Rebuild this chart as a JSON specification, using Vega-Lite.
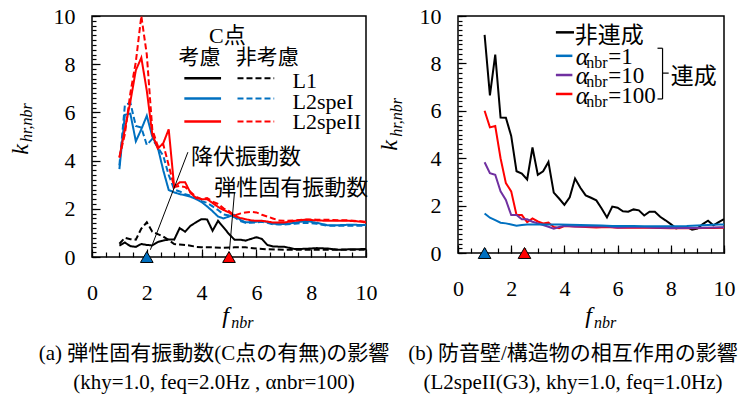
{
 "$schema": "https://vega.github.io/schema/vega-lite/v6.json",
 "background": "white",
 "padding": {"left": 7, "top": 4, "right": 5, "bottom": 0},
 "bounds": "flush",
 "spacing": 92,
 "datasets": {
  "left": [
   {"line":"L1","C":"考慮","f":1,"k":0.47},{"line":"L1","C":"考慮","f":1.2,"k":0.6},{"line":"L1","C":"考慮","f":1.4,"k":0.45},{"line":"L1","C":"考慮","f":1.6,"k":0.42},{"line":"L1","C":"考慮","f":1.8,"k":0.54},{"line":"L1","C":"考慮","f":2,"k":0.5},{"line":"L1","C":"考慮","f":2.2,"k":0.48},{"line":"L1","C":"考慮","f":2.4,"k":0.62},{"line":"L1","C":"考慮","f":2.6,"k":0.68},{"line":"L1","C":"考慮","f":2.8,"k":0.73},{"line":"L1","C":"考慮","f":3,"k":0.72},{"line":"L1","C":"考慮","f":3.2,"k":1.2},{"line":"L1","C":"考慮","f":3.4,"k":1.05},{"line":"L1","C":"考慮","f":3.6,"k":1.3},{"line":"L1","C":"考慮","f":3.8,"k":1.44},{"line":"L1","C":"考慮","f":4,"k":1.57},{"line":"L1","C":"考慮","f":4.2,"k":1.56},{"line":"L1","C":"考慮","f":4.4,"k":1.09},{"line":"L1","C":"考慮","f":4.6,"k":1.5},{"line":"L1","C":"考慮","f":4.8,"k":1.23},{"line":"L1","C":"考慮","f":5,"k":0.95},{"line":"L1","C":"考慮","f":5.2,"k":0.72},{"line":"L1","C":"考慮","f":5.4,"k":0.72},{"line":"L1","C":"考慮","f":5.6,"k":0.68},{"line":"L1","C":"考慮","f":5.8,"k":0.75},{"line":"L1","C":"考慮","f":6,"k":0.82},{"line":"L1","C":"考慮","f":6.2,"k":0.75},{"line":"L1","C":"考慮","f":6.4,"k":0.5},{"line":"L1","C":"考慮","f":6.6,"k":0.44},{"line":"L1","C":"考慮","f":6.8,"k":0.43},{"line":"L1","C":"考慮","f":7,"k":0.43},{"line":"L1","C":"考慮","f":7.2,"k":0.38},{"line":"L1","C":"考慮","f":7.4,"k":0.33},{"line":"L1","C":"考慮","f":7.8,"k":0.34},{"line":"L1","C":"考慮","f":8.2,"k":0.37},{"line":"L1","C":"考慮","f":8.6,"k":0.35},{"line":"L1","C":"考慮","f":9,"k":0.3},{"line":"L1","C":"考慮","f":9.4,"k":0.32},{"line":"L1","C":"考慮","f":10,"k":0.33},
   {"line":"L1","C":"非考慮","f":1,"k":0.55},{"line":"L1","C":"非考慮","f":1.2,"k":0.8},{"line":"L1","C":"非考慮","f":1.4,"k":0.74},{"line":"L1","C":"非考慮","f":1.6,"k":0.72},{"line":"L1","C":"非考慮","f":1.8,"k":1.18},{"line":"L1","C":"非考慮","f":2,"k":1.44},{"line":"L1","C":"非考慮","f":2.2,"k":1.05},{"line":"L1","C":"非考慮","f":2.4,"k":0.95},{"line":"L1","C":"非考慮","f":2.6,"k":0.85},{"line":"L1","C":"非考慮","f":2.8,"k":0.7},{"line":"L1","C":"非考慮","f":3,"k":0.54},{"line":"L1","C":"非考慮","f":3.2,"k":0.52},{"line":"L1","C":"非考慮","f":3.4,"k":0.5},{"line":"L1","C":"非考慮","f":3.6,"k":0.47},{"line":"L1","C":"非考慮","f":3.8,"k":0.42},{"line":"L1","C":"非考慮","f":4,"k":0.4},{"line":"L1","C":"非考慮","f":4.4,"k":0.4},{"line":"L1","C":"非考慮","f":4.8,"k":0.38},{"line":"L1","C":"非考慮","f":5.2,"k":0.4},{"line":"L1","C":"非考慮","f":5.6,"k":0.4},{"line":"L1","C":"非考慮","f":6,"k":0.35},{"line":"L1","C":"非考慮","f":6.4,"k":0.32},{"line":"L1","C":"非考慮","f":7,"k":0.3},{"line":"L1","C":"非考慮","f":8,"k":0.3},{"line":"L1","C":"非考慮","f":9,"k":0.3},{"line":"L1","C":"非考慮","f":10,"k":0.3},
   {"line":"L2speI","C":"考慮","f":1,"k":3.65},{"line":"L2speI","C":"考慮","f":1.2,"k":5.9},{"line":"L2speI","C":"考慮","f":1.4,"k":5.95},{"line":"L2speI","C":"考慮","f":1.6,"k":4.8},{"line":"L2speI","C":"考慮","f":1.8,"k":5.3},{"line":"L2speI","C":"考慮","f":2,"k":5.86},{"line":"L2speI","C":"考慮","f":2.2,"k":5.0},{"line":"L2speI","C":"考慮","f":2.4,"k":4.55},{"line":"L2speI","C":"考慮","f":2.6,"k":3.6},{"line":"L2speI","C":"考慮","f":2.8,"k":2.78},{"line":"L2speI","C":"考慮","f":3,"k":2.68},{"line":"L2speI","C":"考慮","f":3.2,"k":2.61},{"line":"L2speI","C":"考慮","f":3.4,"k":2.56},{"line":"L2speI","C":"考慮","f":3.6,"k":2.5},{"line":"L2speI","C":"考慮","f":3.8,"k":2.4},{"line":"L2speI","C":"考慮","f":4,"k":2.28},{"line":"L2speI","C":"考慮","f":4.2,"k":2.1},{"line":"L2speI","C":"考慮","f":4.4,"k":1.9},{"line":"L2speI","C":"考慮","f":4.6,"k":1.68},{"line":"L2speI","C":"考慮","f":4.8,"k":1.6},{"line":"L2speI","C":"考慮","f":5,"k":1.68},{"line":"L2speI","C":"考慮","f":5.2,"k":1.75},{"line":"L2speI","C":"考慮","f":5.4,"k":1.55},{"line":"L2speI","C":"考慮","f":5.6,"k":1.44},{"line":"L2speI","C":"考慮","f":5.8,"k":1.45},{"line":"L2speI","C":"考慮","f":6,"k":1.46},{"line":"L2speI","C":"考慮","f":6.2,"k":1.5},{"line":"L2speI","C":"考慮","f":6.4,"k":1.45},{"line":"L2speI","C":"考慮","f":6.6,"k":1.38},{"line":"L2speI","C":"考慮","f":6.8,"k":1.37},{"line":"L2speI","C":"考慮","f":7,"k":1.37},{"line":"L2speI","C":"考慮","f":7.4,"k":1.42},{"line":"L2speI","C":"考慮","f":7.8,"k":1.5},{"line":"L2speI","C":"考慮","f":8.2,"k":1.42},{"line":"L2speI","C":"考慮","f":8.6,"k":1.32},{"line":"L2speI","C":"考慮","f":9,"k":1.32},{"line":"L2speI","C":"考慮","f":9.4,"k":1.34},{"line":"L2speI","C":"考慮","f":9.8,"k":1.33},{"line":"L2speI","C":"考慮","f":10,"k":1.33},
   {"line":"L2speI","C":"非考慮","f":1,"k":3.8},{"line":"L2speI","C":"非考慮","f":1.2,"k":6.3},{"line":"L2speI","C":"非考慮","f":1.4,"k":6.4},{"line":"L2speI","C":"非考慮","f":1.6,"k":5.44},{"line":"L2speI","C":"非考慮","f":1.8,"k":5.37},{"line":"L2speI","C":"非考慮","f":2,"k":4.65},{"line":"L2speI","C":"非考慮","f":2.2,"k":4.9},{"line":"L2speI","C":"非考慮","f":2.4,"k":4.55},{"line":"L2speI","C":"非考慮","f":2.6,"k":4.2},{"line":"L2speI","C":"非考慮","f":2.8,"k":3.4},{"line":"L2speI","C":"非考慮","f":3,"k":2.8},{"line":"L2speI","C":"非考慮","f":3.2,"k":2.72},{"line":"L2speI","C":"非考慮","f":3.4,"k":2.6},{"line":"L2speI","C":"非考慮","f":3.6,"k":2.55},{"line":"L2speI","C":"非考慮","f":3.8,"k":2.45},{"line":"L2speI","C":"非考慮","f":4,"k":2.32},{"line":"L2speI","C":"非考慮","f":4.2,"k":2.25},{"line":"L2speI","C":"非考慮","f":4.4,"k":2.1},{"line":"L2speI","C":"非考慮","f":4.6,"k":1.95},{"line":"L2speI","C":"非考慮","f":4.8,"k":1.77},{"line":"L2speI","C":"非考慮","f":5,"k":1.72},{"line":"L2speI","C":"非考慮","f":5.2,"k":1.65},{"line":"L2speI","C":"非考慮","f":5.4,"k":1.5},{"line":"L2speI","C":"非考慮","f":5.6,"k":1.42},{"line":"L2speI","C":"非考慮","f":5.8,"k":1.42},{"line":"L2speI","C":"非考慮","f":6,"k":1.43},{"line":"L2speI","C":"非考慮","f":6.2,"k":1.46},{"line":"L2speI","C":"非考慮","f":6.4,"k":1.42},{"line":"L2speI","C":"非考慮","f":6.6,"k":1.36},{"line":"L2speI","C":"非考慮","f":6.8,"k":1.35},{"line":"L2speI","C":"非考慮","f":7,"k":1.35},{"line":"L2speI","C":"非考慮","f":7.4,"k":1.38},{"line":"L2speI","C":"非考慮","f":7.8,"k":1.42},{"line":"L2speI","C":"非考慮","f":8.2,"k":1.38},{"line":"L2speI","C":"非考慮","f":8.6,"k":1.3},{"line":"L2speI","C":"非考慮","f":9,"k":1.3},{"line":"L2speI","C":"非考慮","f":9.4,"k":1.3},{"line":"L2speI","C":"非考慮","f":9.8,"k":1.3},{"line":"L2speI","C":"非考慮","f":10,"k":1.3},
   {"line":"L2speII","C":"考慮","f":1,"k":4.13},{"line":"L2speII","C":"考慮","f":1.2,"k":5.3},{"line":"L2speII","C":"考慮","f":1.4,"k":6.45},{"line":"L2speII","C":"考慮","f":1.6,"k":7.75},{"line":"L2speII","C":"考慮","f":1.8,"k":8.27},{"line":"L2speII","C":"考慮","f":2,"k":6.9},{"line":"L2speII","C":"考慮","f":2.2,"k":5.1},{"line":"L2speII","C":"考慮","f":2.4,"k":4.5},{"line":"L2speII","C":"考慮","f":2.6,"k":4.72},{"line":"L2speII","C":"考慮","f":2.8,"k":5.3},{"line":"L2speII","C":"考慮","f":3,"k":2.9},{"line":"L2speII","C":"考慮","f":3.2,"k":3.1},{"line":"L2speII","C":"考慮","f":3.4,"k":3.1},{"line":"L2speII","C":"考慮","f":3.6,"k":2.65},{"line":"L2speII","C":"考慮","f":3.8,"k":2.45},{"line":"L2speII","C":"考慮","f":4,"k":2.4},{"line":"L2speII","C":"考慮","f":4.2,"k":2.4},{"line":"L2speII","C":"考慮","f":4.4,"k":2.24},{"line":"L2speII","C":"考慮","f":4.6,"k":2.08},{"line":"L2speII","C":"考慮","f":4.8,"k":1.95},{"line":"L2speII","C":"考慮","f":5,"k":1.85},{"line":"L2speII","C":"考慮","f":5.2,"k":1.7},{"line":"L2speII","C":"考慮","f":5.4,"k":1.62},{"line":"L2speII","C":"考慮","f":5.6,"k":1.57},{"line":"L2speII","C":"考慮","f":5.8,"k":1.52},{"line":"L2speII","C":"考慮","f":6,"k":1.5},{"line":"L2speII","C":"考慮","f":6.2,"k":1.5},{"line":"L2speII","C":"考慮","f":6.4,"k":1.47},{"line":"L2speII","C":"考慮","f":6.6,"k":1.43},{"line":"L2speII","C":"考慮","f":6.8,"k":1.43},{"line":"L2speII","C":"考慮","f":7,"k":1.43},{"line":"L2speII","C":"考慮","f":7.4,"k":1.5},{"line":"L2speII","C":"考慮","f":7.8,"k":1.55},{"line":"L2speII","C":"考慮","f":8.2,"k":1.52},{"line":"L2speII","C":"考慮","f":8.6,"k":1.5},{"line":"L2speII","C":"考慮","f":9,"k":1.5},{"line":"L2speII","C":"考慮","f":9.4,"k":1.5},{"line":"L2speII","C":"考慮","f":9.8,"k":1.47},{"line":"L2speII","C":"考慮","f":10,"k":1.43},
   {"line":"L2speII","C":"非考慮","f":1,"k":4.13},{"line":"L2speII","C":"非考慮","f":1.2,"k":5.1},{"line":"L2speII","C":"非考慮","f":1.4,"k":6.8},{"line":"L2speII","C":"非考慮","f":1.6,"k":8.1},{"line":"L2speII","C":"非考慮","f":1.8,"k":10},{"line":"L2speII","C":"非考慮","f":2,"k":8.4},{"line":"L2speII","C":"非考慮","f":2.2,"k":5.3},{"line":"L2speII","C":"非考慮","f":2.4,"k":4.6},{"line":"L2speII","C":"非考慮","f":2.6,"k":4.68},{"line":"L2speII","C":"非考慮","f":2.8,"k":3.8},{"line":"L2speII","C":"非考慮","f":3,"k":2.9},{"line":"L2speII","C":"非考慮","f":3.2,"k":2.95},{"line":"L2speII","C":"非考慮","f":3.4,"k":2.9},{"line":"L2speII","C":"非考慮","f":3.6,"k":2.7},{"line":"L2speII","C":"非考慮","f":3.8,"k":2.5},{"line":"L2speII","C":"非考慮","f":4,"k":2.4},{"line":"L2speII","C":"非考慮","f":4.2,"k":2.45},{"line":"L2speII","C":"非考慮","f":4.4,"k":2.3},{"line":"L2speII","C":"非考慮","f":4.6,"k":2.2},{"line":"L2speII","C":"非考慮","f":4.8,"k":2.02},{"line":"L2speII","C":"非考慮","f":5,"k":1.9},{"line":"L2speII","C":"非考慮","f":5.2,"k":1.72},{"line":"L2speII","C":"非考慮","f":5.4,"k":1.8},{"line":"L2speII","C":"非考慮","f":5.6,"k":1.85},{"line":"L2speII","C":"非考慮","f":5.8,"k":1.87},{"line":"L2speII","C":"非考慮","f":6,"k":1.85},{"line":"L2speII","C":"非考慮","f":6.2,"k":1.75},{"line":"L2speII","C":"非考慮","f":6.4,"k":1.68},{"line":"L2speII","C":"非考慮","f":6.6,"k":1.6},{"line":"L2speII","C":"非考慮","f":6.8,"k":1.52},{"line":"L2speII","C":"非考慮","f":7,"k":1.5},{"line":"L2speII","C":"非考慮","f":7.4,"k":1.52},{"line":"L2speII","C":"非考慮","f":7.8,"k":1.56},{"line":"L2speII","C":"非考慮","f":8.2,"k":1.55},{"line":"L2speII","C":"非考慮","f":8.6,"k":1.55},{"line":"L2speII","C":"非考慮","f":9,"k":1.52},{"line":"L2speII","C":"非考慮","f":9.4,"k":1.52},{"line":"L2speII","C":"非考慮","f":9.8,"k":1.48},{"line":"L2speII","C":"非考慮","f":10,"k":1.46}
  ],
  "right": [
   {"case":"非連成","f":1,"k":9.2},{"case":"非連成","f":1.2,"k":6.65},{"case":"非連成","f":1.4,"k":8.37},{"case":"非連成","f":1.6,"k":5.72},{"case":"非連成","f":1.8,"k":5.71},{"case":"非連成","f":2,"k":4.94},{"case":"非連成","f":2.2,"k":3.45},{"case":"非連成","f":2.4,"k":3.35},{"case":"非連成","f":2.6,"k":3.1},{"case":"非連成","f":2.8,"k":4.45},{"case":"非連成","f":3,"k":3.3},{"case":"非連成","f":3.2,"k":3.45},{"case":"非連成","f":3.4,"k":3.84},{"case":"非連成","f":3.6,"k":2.55},{"case":"非連成","f":3.8,"k":2.3},{"case":"非連成","f":4,"k":2.03},{"case":"非連成","f":4.2,"k":2.35},{"case":"非連成","f":4.4,"k":3.14},{"case":"非連成","f":4.6,"k":2.75},{"case":"非連成","f":4.8,"k":2.43},{"case":"非連成","f":5,"k":2.33},{"case":"非連成","f":5.2,"k":2.22},{"case":"非連成","f":5.4,"k":1.88},{"case":"非連成","f":5.6,"k":1.5},{"case":"非連成","f":5.8,"k":1.96},{"case":"非連成","f":6,"k":1.91},{"case":"非連成","f":6.2,"k":1.76},{"case":"非連成","f":6.4,"k":1.74},{"case":"非連成","f":6.6,"k":1.84},{"case":"非連成","f":6.8,"k":1.8},{"case":"非連成","f":7,"k":1.58},{"case":"非連成","f":7.2,"k":1.74},{"case":"非連成","f":7.4,"k":1.74},{"case":"非連成","f":7.6,"k":1.53},{"case":"非連成","f":7.8,"k":1.38},{"case":"非連成","f":8,"k":1.22},{"case":"非連成","f":8.2,"k":1.04},{"case":"非連成","f":8.4,"k":1.1},{"case":"非連成","f":8.6,"k":1.1},{"case":"非連成","f":8.8,"k":0.98},{"case":"非連成","f":9,"k":1.03},{"case":"非連成","f":9.2,"k":1.22},{"case":"非連成","f":9.4,"k":1.36},{"case":"非連成","f":9.6,"k":1.17},{"case":"非連成","f":9.8,"k":1.3},{"case":"非連成","f":10,"k":1.43},
   {"case":"α=100","f":1,"k":6.0},{"case":"α=100","f":1.2,"k":5.3},{"case":"α=100","f":1.4,"k":5.36},{"case":"α=100","f":1.6,"k":4.0},{"case":"α=100","f":1.8,"k":2.95},{"case":"α=100","f":2,"k":2.6},{"case":"α=100","f":2.2,"k":1.6},{"case":"α=100","f":2.4,"k":1.6},{"case":"α=100","f":2.6,"k":1.3},{"case":"α=100","f":2.8,"k":1.46},{"case":"α=100","f":3,"k":1.33},{"case":"α=100","f":3.2,"k":1.25},{"case":"α=100","f":3.4,"k":1.28},{"case":"α=100","f":3.6,"k":1.1},{"case":"α=100","f":3.8,"k":1.05},{"case":"α=100","f":4,"k":1.14},{"case":"α=100","f":4.4,"k":1.12},{"case":"α=100","f":4.8,"k":1.1},{"case":"α=100","f":5.2,"k":1.08},{"case":"α=100","f":5.6,"k":1.1},{"case":"α=100","f":6,"k":1.07},{"case":"α=100","f":6.4,"k":1.07},{"case":"α=100","f":6.8,"k":1.08},{"case":"α=100","f":7.2,"k":1.07},{"case":"α=100","f":7.6,"k":1.06},{"case":"α=100","f":8,"k":1.04},{"case":"α=100","f":8.4,"k":1.05},{"case":"α=100","f":8.8,"k":1.04},{"case":"α=100","f":9.2,"k":1.05},{"case":"α=100","f":9.6,"k":1.06},{"case":"α=100","f":10,"k":1.07},
   {"case":"α=10","f":1,"k":3.83},{"case":"α=10","f":1.2,"k":3.37},{"case":"α=10","f":1.4,"k":3.3},{"case":"α=10","f":1.6,"k":2.6},{"case":"α=10","f":1.8,"k":2.24},{"case":"α=10","f":2,"k":1.6},{"case":"α=10","f":2.2,"k":1.6},{"case":"α=10","f":2.4,"k":1.42},{"case":"α=10","f":2.6,"k":1.42},{"case":"α=10","f":2.8,"k":1.32},{"case":"α=10","f":3,"k":1.25},{"case":"α=10","f":3.2,"k":1.18},{"case":"α=10","f":3.4,"k":1.11},{"case":"α=10","f":3.6,"k":1.03},{"case":"α=10","f":3.8,"k":1.1},{"case":"α=10","f":4,"k":1.15},{"case":"α=10","f":4.4,"k":1.12},{"case":"α=10","f":4.8,"k":1.12},{"case":"α=10","f":5.2,"k":1.12},{"case":"α=10","f":5.6,"k":1.12},{"case":"α=10","f":6,"k":1.08},{"case":"α=10","f":6.4,"k":1.09},{"case":"α=10","f":6.8,"k":1.1},{"case":"α=10","f":7.2,"k":1.08},{"case":"α=10","f":7.6,"k":1.07},{"case":"α=10","f":8,"k":1.06},{"case":"α=10","f":8.4,"k":1.06},{"case":"α=10","f":8.8,"k":1.06},{"case":"α=10","f":9.2,"k":1.07},{"case":"α=10","f":9.6,"k":1.08},{"case":"α=10","f":10,"k":1.09},
   {"case":"α=1","f":1,"k":1.67},{"case":"α=1","f":1.2,"k":1.49},{"case":"α=1","f":1.4,"k":1.39},{"case":"α=1","f":1.6,"k":1.28},{"case":"α=1","f":1.8,"k":1.25},{"case":"α=1","f":2,"k":1.2},{"case":"α=1","f":2.2,"k":1.15},{"case":"α=1","f":2.4,"k":1.18},{"case":"α=1","f":2.6,"k":1.2},{"case":"α=1","f":3,"k":1.2},{"case":"α=1","f":3.4,"k":1.2},{"case":"α=1","f":3.8,"k":1.2},{"case":"α=1","f":4.2,"k":1.19},{"case":"α=1","f":4.6,"k":1.18},{"case":"α=1","f":5,"k":1.17},{"case":"α=1","f":5.4,"k":1.16},{"case":"α=1","f":5.8,"k":1.14},{"case":"α=1","f":6.2,"k":1.14},{"case":"α=1","f":6.6,"k":1.14},{"case":"α=1","f":7,"k":1.13},{"case":"α=1","f":7.4,"k":1.13},{"case":"α=1","f":7.8,"k":1.13},{"case":"α=1","f":8.2,"k":1.13},{"case":"α=1","f":8.6,"k":1.14},{"case":"α=1","f":9,"k":1.16},{"case":"α=1","f":9.4,"k":1.18},{"case":"α=1","f":9.8,"k":1.2},{"case":"α=1","f":10,"k":1.2}
  ],
  "markLeft": [{"f":2,"kind":"降伏振動数"},{"f":5,"kind":"弾性固有振動数"}],
  "markRight": [{"f":1,"kind":"降伏振動数"},{"f":2.5,"kind":"弾性固有振動数"}]
 },
 "config": {
  "view": {"stroke": "black", "strokeWidth": 1.5},
  "axis": {"grid": false, "domain": false, "ticks": true, "tickColor": "#000000", "tickOpacity": 1, "tickWidth": 1, "labelFont": "Liberation Serif", "labelFontSize": 22, "labelColor": "black", "titleFont": "Liberation Serif", "titleFontSize": 24, "titleFontStyle": "italic", "titleFontWeight": "normal", "titleColor": "black", "labelFlush": false, "labelOverlap": false, "zindex": 2},
  "title": {"font": "Liberation Serif, Noto Sans CJK JP", "fontSize": 21, "fontWeight": "normal", "color": "black", "lineHeight": 29}
 },
 "resolve": {"scale": {"color": "independent", "strokeDash": "independent", "fill": "independent"}},
 "hconcat": [
  {
   "width": 274, "height": 241,
   "title": {"text": ["(a) 弾性固有振動数(C点の有無)の影響", "(khy=1.0, feq=2.0Hz , αnbr=100)"], "orient": "bottom", "anchor": "middle", "frame": "group", "dx": -15, "offset": 12},
   "resolve": {"axis": {"x": "independent", "y": "independent"}},
   "layer": [
    {"data": {"name": "left"}, "mark": {"type": "line", "strokeWidth": 2, "clip": true},
     "encoding": {
      "x": {"field": "f", "type": "quantitative", "scale": {"domain": [0, 10], "nice": false},
            "axis": {"orient": "bottom", "values": [0,2,4,6,8,10], "offset": -8, "ticks": true, "tickSize": 8, "tickColor": "#000000", "tickWidth": 1.2, "tickOpacity": 1, "labelPadding": 25, "title": "f", "titleX": 133, "titleY": 73, "titleBaseline": "alphabetic", "titleAlign": "center"}},
      "y": {"field": "k", "type": "quantitative", "scale": {"domain": [0, 10], "nice": false},
            "axis": {"orient": "left", "values": [0,2,4,6,8,10], "offset": -8, "ticks": true, "tickSize": 8, "tickColor": "#000000", "tickWidth": 1.2, "tickOpacity": 1, "labelPadding": 17, "title": "k", "titleX": -72.7, "titleY": 133, "titleAngle": 270, "titleBaseline": "alphabetic", "titleAlign": "center"}},
      "color": {"field": "line", "type": "nominal", "scale": {"domain": ["L1", "L2speI", "L2speII"], "range": ["#000000", "#0070C0", "#FF0000"]}, "legend": null},
      "strokeDash": {"field": "C", "type": "nominal", "scale": {"domain": ["考慮", "非考慮"], "range": [[1, 0], [6, 3]]}, "legend": null}
     }},
    {"data": {"values": [{}]}, "mark": {"type": "rule", "color": "black", "strokeWidth": 1},
     "encoding": {"x": {"datum": 3.5, "type": "quantitative", "axis": null}, "y": {"datum": 4.35, "type": "quantitative", "axis": null}, "x2": {"datum": 2.13}, "y2": {"datum": 0.3}}},
    {"data": {"values": [{}]}, "mark": {"type": "rule", "color": "black", "strokeWidth": 1},
     "encoding": {"x": {"datum": 5.2, "type": "quantitative", "axis": null}, "y": {"datum": 2.68, "type": "quantitative", "axis": null}, "x2": {"datum": 5.02}, "y2": {"datum": 0.3}}},
    {"data": {"values": [{}]}, "mark": {"type": "text", "text": "降伏振動数", "font": "Noto Sans CJK JP", "fontSize": 22, "align": "left", "baseline": "middle", "color": "black"},
     "encoding": {"x": {"datum": 3.61, "type": "quantitative", "axis": null}, "y": {"datum": 4.14, "type": "quantitative", "axis": null}}},
    {"data": {"values": [{}]}, "mark": {"type": "text", "text": "弾性固有振動数", "font": "Noto Sans CJK JP", "fontSize": 22, "align": "left", "baseline": "middle", "color": "black"},
     "encoding": {"x": {"datum": 4.46, "type": "quantitative", "axis": null}, "y": {"datum": 2.86, "type": "quantitative", "axis": null}}},
    {"data": {"values": [{}]}, "mark": {"type": "text", "text": "C点", "font": "Liberation Serif, Noto Sans CJK JP", "fontSize": 22, "align": "center", "baseline": "middle", "color": "black"},
     "encoding": {"x": {"datum": 4.94, "type": "quantitative", "axis": null}, "y": {"datum": 9.15, "type": "quantitative", "axis": null}}},
    {"data": {"values": [{}]}, "mark": {"type": "text", "text": "考慮", "font": "Noto Sans CJK JP", "fontSize": 21, "align": "center", "baseline": "middle", "color": "black"},
     "encoding": {"x": {"datum": 3.92, "type": "quantitative", "axis": null}, "y": {"datum": 8.24, "type": "quantitative", "axis": null}}},
    {"data": {"values": [{}]}, "mark": {"type": "text", "text": "非考慮", "font": "Noto Sans CJK JP", "fontSize": 21, "align": "center", "baseline": "middle", "color": "black"},
     "encoding": {"x": {"datum": 6.4, "type": "quantitative", "axis": null}, "y": {"datum": 8.24, "type": "quantitative", "axis": null}}},
    {"data": {"values": [{}]}, "mark": {"type": "rule", "color": "#000000", "strokeWidth": 2.5},
     "encoding": {"x": {"datum": 3.37, "type": "quantitative", "axis": null}, "x2": {"datum": 4.71}, "y": {"datum": 7.42, "type": "quantitative", "axis": null}}},
    {"data": {"values": [{}]}, "mark": {"type": "rule", "color": "#0070C0", "strokeWidth": 2.5},
     "encoding": {"x": {"datum": 3.37, "type": "quantitative", "axis": null}, "x2": {"datum": 4.71}, "y": {"datum": 6.58, "type": "quantitative", "axis": null}}},
    {"data": {"values": [{}]}, "mark": {"type": "rule", "color": "#FF0000", "strokeWidth": 2.5},
     "encoding": {"x": {"datum": 3.37, "type": "quantitative", "axis": null}, "x2": {"datum": 4.71}, "y": {"datum": 5.62, "type": "quantitative", "axis": null}}},
    {"data": {"values": [{}]}, "mark": {"type": "rule", "color": "#000000", "strokeWidth": 2, "strokeDash": [6, 3]},
     "encoding": {"x": {"datum": 5.31, "type": "quantitative", "axis": null}, "x2": {"datum": 6.65}, "y": {"datum": 7.42, "type": "quantitative", "axis": null}}},
    {"data": {"values": [{}]}, "mark": {"type": "rule", "color": "#0070C0", "strokeWidth": 2, "strokeDash": [6, 3]},
     "encoding": {"x": {"datum": 5.31, "type": "quantitative", "axis": null}, "x2": {"datum": 6.65}, "y": {"datum": 6.58, "type": "quantitative", "axis": null}}},
    {"data": {"values": [{}]}, "mark": {"type": "rule", "color": "#FF0000", "strokeWidth": 2, "strokeDash": [6, 3]},
     "encoding": {"x": {"datum": 5.31, "type": "quantitative", "axis": null}, "x2": {"datum": 6.65}, "y": {"datum": 5.62, "type": "quantitative", "axis": null}}},
    {"data": {"values": [{}]}, "mark": {"type": "text", "text": ["L1", "L2speI", "L2speII"], "lineHeight": 20.5, "font": "Liberation Serif", "fontSize": 22, "align": "left", "baseline": "middle", "color": "black"},
     "encoding": {"x": {"datum": 7.32, "type": "quantitative", "axis": null}, "y": {"datum": 7.3, "type": "quantitative", "axis": null}}},
    {"data": {"values": [{}]}, "mark": {"type": "text", "text": "hr,nbr", "angle": 270, "font": "Liberation Serif", "fontStyle": "italic", "fontSize": 16, "align": "left", "baseline": "alphabetic", "color": "black"},
     "encoding": {"x": {"datum": -2.18, "type": "quantitative", "axis": null}, "y": {"datum": 4.77, "type": "quantitative", "axis": null}}},
    {"data": {"values": [{}]}, "mark": {"type": "text", "text": "nbr", "font": "Liberation Serif", "fontStyle": "italic", "fontSize": 16, "align": "left", "baseline": "alphabetic", "color": "black"},
     "encoding": {"x": {"datum": 5.08, "type": "quantitative", "axis": null}, "y": {"datum": -2.94, "type": "quantitative", "axis": null}}},
    {"data": {"name": "markLeft"}, "mark": {"type": "point", "shape": "triangle-up", "size": 160, "filled": true, "stroke": "black", "strokeWidth": 1, "opacity": 1},
     "encoding": {
      "x": {"field": "f", "type": "quantitative", "axis": {"orient": "bottom", "values": [0,0.5,1,1.5,2,2.5,3,3.5,4,4.5,5,5.5,6,6.5,7,7.5,8,8.5,9,9.5,10], "offset": -5, "ticks": true, "tickSize": 5, "tickColor": "#000000", "tickWidth": 1.2, "tickOpacity": 1, "labels": false, "title": null}},
      "y": {"datum": 0, "type": "quantitative", "axis": {"orient": "left", "values": [0,0.2,0.4,0.6,0.8,1,1.2,1.4,1.6,1.8,2,2.2,2.4,2.6,2.8,3,3.2,3.4,3.6,3.8,4,4.2,4.4,4.6,4.8,5,5.2,5.4,5.6,5.8,6,6.2,6.4,6.6,6.8,7,7.2,7.4,7.6,7.8,8,8.2,8.4,8.6,8.8,9,9.2,9.4,9.6,9.8,10], "offset": -4, "ticks": true, "tickSize": 4, "tickColor": "#000000", "tickWidth": 1.2, "tickOpacity": 1, "labels": false, "title": null}},
      "fill": {"field": "kind", "type": "nominal", "scale": {"domain": ["降伏振動数", "弾性固有振動数"], "range": ["#0070C0", "#FF0000"]}, "legend": null}}}
   ]
  },
  {
   "width": 266, "height": 237,
   "title": {"text": ["(b) 防音壁/構造物の相互作用の影響", "(L2speII(G3), khy=1.0, feq=1.0Hz)"], "orient": "bottom", "anchor": "middle", "frame": "group", "dx": -18, "offset": 12},
   "resolve": {"axis": {"x": "independent", "y": "independent"}},
   "layer": [
    {"data": {"name": "right"}, "mark": {"type": "line", "strokeWidth": 2, "clip": true},
     "encoding": {
      "x": {"field": "f", "type": "quantitative", "scale": {"domain": [0, 10], "nice": false},
            "axis": {"orient": "bottom", "values": [0,2,4,6,8,10], "offset": -8, "ticks": true, "tickSize": 8, "tickColor": "#000000", "tickWidth": 1.2, "tickOpacity": 1, "labelPadding": 25, "title": "f", "titleX": 130, "titleY": 77, "titleBaseline": "alphabetic", "titleAlign": "center"}},
      "y": {"field": "k", "type": "quantitative", "scale": {"domain": [0, 10], "nice": false},
            "axis": {"orient": "left", "values": [0,2,4,6,8,10], "offset": -8, "ticks": true, "tickSize": 8, "tickColor": "#000000", "tickWidth": 1.2, "tickOpacity": 1, "labelPadding": 17, "title": "k", "titleX": -69.3, "titleY": 129, "titleAngle": 270, "titleBaseline": "alphabetic", "titleAlign": "center"}},
      "color": {"field": "case", "type": "nominal", "scale": {"domain": ["非連成", "α=100", "α=10", "α=1"], "range": ["#000000", "#FF0000", "#7030A0", "#0070C0"]}, "legend": null}
     }},
    {"data": {"values": [{}]}, "mark": {"type": "rule", "color": "#000000", "strokeWidth": 2.5},
     "encoding": {"x": {"datum": 3.68, "type": "quantitative", "axis": null}, "x2": {"datum": 4.36}, "y": {"datum": 9.31, "type": "quantitative", "axis": null}}},
    {"data": {"values": [{}]}, "mark": {"type": "rule", "color": "#0070C0", "strokeWidth": 2.5},
     "encoding": {"x": {"datum": 3.68, "type": "quantitative", "axis": null}, "x2": {"datum": 4.3}, "y": {"datum": 8.32, "type": "quantitative", "axis": null}}},
    {"data": {"values": [{}]}, "mark": {"type": "rule", "color": "#7030A0", "strokeWidth": 2.5},
     "encoding": {"x": {"datum": 3.68, "type": "quantitative", "axis": null}, "x2": {"datum": 4.3}, "y": {"datum": 7.51, "type": "quantitative", "axis": null}}},
    {"data": {"values": [{}]}, "mark": {"type": "rule", "color": "#FF0000", "strokeWidth": 2.5},
     "encoding": {"x": {"datum": 3.68, "type": "quantitative", "axis": null}, "x2": {"datum": 4.3}, "y": {"datum": 6.71, "type": "quantitative", "axis": null}}},
    {"data": {"values": [{}]}, "mark": {"type": "text", "text": "非連成", "font": "Noto Sans CJK JP", "fontSize": 23, "align": "left", "baseline": "middle", "color": "black"},
     "encoding": {"x": {"datum": 4.39, "type": "quantitative", "axis": null}, "y": {"datum": 9.14, "type": "quantitative", "axis": null}}},
    {"data": {"values": [{}]}, "mark": {"type": "text", "text": ["α", "α", "α"], "lineHeight": 19.2, "font": "Liberation Serif", "fontStyle": "italic", "fontSize": 25, "align": "left", "baseline": "middle", "color": "black"},
     "encoding": {"x": {"datum": 4.43, "type": "quantitative", "axis": null}, "y": {"datum": 8.26, "type": "quantitative", "axis": null}}},
    {"data": {"values": [{}]}, "mark": {"type": "text", "text": ["nbr", "nbr", "nbr"], "lineHeight": 19.2, "font": "Liberation Serif", "fontSize": 16, "align": "left", "baseline": "middle", "dy": 6, "color": "black"},
     "encoding": {"x": {"datum": 4.82, "type": "quantitative", "axis": null}, "y": {"datum": 8.26, "type": "quantitative", "axis": null}}},
    {"data": {"values": [{}]}, "mark": {"type": "text", "text": ["=1", "=10", "=100"], "lineHeight": 19.2, "font": "Liberation Serif", "fontSize": 23, "align": "left", "baseline": "middle", "color": "black"},
     "encoding": {"x": {"datum": 5.65, "type": "quantitative", "axis": null}, "y": {"datum": 8.26, "type": "quantitative", "axis": null}}},
    {"data": {"values": [{}]}, "mark": {"type": "rule", "color": "black", "strokeWidth": 1.2},
     "encoding": {"x": {"datum": 7.69, "type": "quantitative", "axis": null}, "y": {"datum": 8.64, "type": "quantitative", "axis": null}, "y2": {"datum": 6.5}}},
    {"data": {"values": [{}]}, "mark": {"type": "rule", "color": "black", "strokeWidth": 1.2},
     "encoding": {"x": {"datum": 7.5, "type": "quantitative", "axis": null}, "x2": {"datum": 7.69}, "y": {"datum": 8.64, "type": "quantitative", "axis": null}}},
    {"data": {"values": [{}]}, "mark": {"type": "rule", "color": "black", "strokeWidth": 1.2},
     "encoding": {"x": {"datum": 7.5, "type": "quantitative", "axis": null}, "x2": {"datum": 7.69}, "y": {"datum": 6.5, "type": "quantitative", "axis": null}}},
    {"data": {"values": [{}]}, "mark": {"type": "rule", "color": "black", "strokeWidth": 1.2},
     "encoding": {"x": {"datum": 7.69, "type": "quantitative", "axis": null}, "x2": {"datum": 7.92}, "y": {"datum": 7.59, "type": "quantitative", "axis": null}}},
    {"data": {"values": [{}]}, "mark": {"type": "text", "text": "連成", "font": "Noto Sans CJK JP", "fontSize": 23, "align": "left", "baseline": "middle", "color": "black"},
     "encoding": {"x": {"datum": 8.0, "type": "quantitative", "axis": null}, "y": {"datum": 7.42, "type": "quantitative", "axis": null}}},
    {"data": {"values": [{}]}, "mark": {"type": "text", "text": "hr,nbr", "angle": 270, "font": "Liberation Serif", "fontStyle": "italic", "fontSize": 16, "align": "left", "baseline": "alphabetic", "color": "black"},
     "encoding": {"x": {"datum": -2.12, "type": "quantitative", "axis": null}, "y": {"datum": 4.91, "type": "quantitative", "axis": null}}},
    {"data": {"values": [{}]}, "mark": {"type": "text", "text": "nbr", "font": "Liberation Serif", "fontStyle": "italic", "fontSize": 16, "align": "left", "baseline": "alphabetic", "color": "black"},
     "encoding": {"x": {"datum": 5.11, "type": "quantitative", "axis": null}, "y": {"datum": -3.18, "type": "quantitative", "axis": null}}},
    {"data": {"name": "markRight"}, "mark": {"type": "point", "shape": "triangle-up", "size": 160, "filled": true, "stroke": "black", "strokeWidth": 1, "opacity": 1},
     "encoding": {
      "x": {"field": "f", "type": "quantitative", "axis": {"orient": "bottom", "values": [0,0.5,1,1.5,2,2.5,3,3.5,4,4.5,5,5.5,6,6.5,7,7.5,8,8.5,9,9.5,10], "offset": -5, "ticks": true, "tickSize": 5, "tickColor": "#000000", "tickWidth": 1.2, "tickOpacity": 1, "labels": false, "title": null}},
      "y": {"datum": 0, "type": "quantitative", "axis": {"orient": "left", "values": [0,0.2,0.4,0.6,0.8,1,1.2,1.4,1.6,1.8,2,2.2,2.4,2.6,2.8,3,3.2,3.4,3.6,3.8,4,4.2,4.4,4.6,4.8,5,5.2,5.4,5.6,5.8,6,6.2,6.4,6.6,6.8,7,7.2,7.4,7.6,7.8,8,8.2,8.4,8.6,8.8,9,9.2,9.4,9.6,9.8,10], "offset": -4, "ticks": true, "tickSize": 4, "tickColor": "#000000", "tickWidth": 1.2, "tickOpacity": 1, "labels": false, "title": null}},
      "fill": {"field": "kind", "type": "nominal", "scale": {"domain": ["降伏振動数", "弾性固有振動数"], "range": ["#0070C0", "#FF0000"]}, "legend": null}}}
   ]
  }
 ]
}
